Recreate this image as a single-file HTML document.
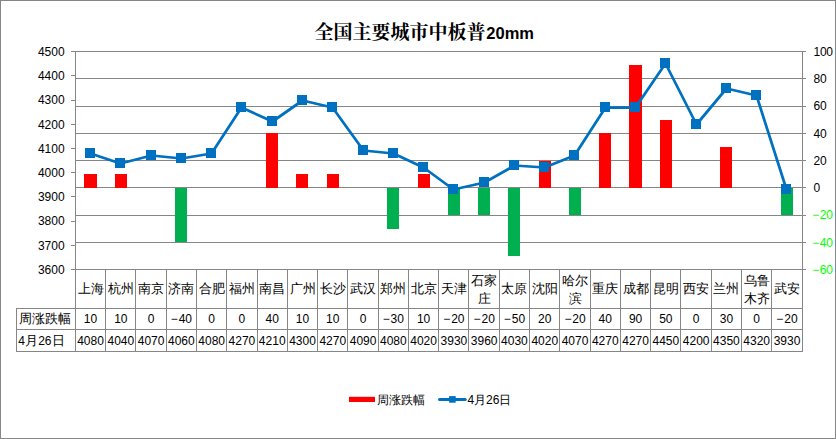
<!DOCTYPE html>
<html lang="zh">
<head>
<meta charset="utf-8">
<title>全国主要城市中板普20mm</title>
<style>
html,body{margin:0;padding:0;background:#fff;}
body{width:836px;height:439px;overflow:hidden;font-family:"Liberation Sans",sans-serif;}
#chart{position:absolute;left:0;top:0;width:836px;height:439px;box-sizing:border-box;border:1px solid #868686;background:#fff;}
svg{position:absolute;left:0;top:0;display:block;}
text{font-family:"Liberation Sans",sans-serif;}
</style>
</head>
<body>
<div id="chart"></div>
<svg width="836" height="439" viewBox="0 0 836 439">
<g id="grid">
<rect x="75" y="51" width="731" height="1" fill="#868686"/>
<rect x="75" y="78" width="731" height="1" fill="#868686"/>
<rect x="75" y="106" width="731" height="1" fill="#868686"/>
<rect x="75" y="133" width="731" height="1" fill="#868686"/>
<rect x="75" y="160" width="731" height="1" fill="#868686"/>
<rect x="75" y="187" width="731" height="1" fill="#868686"/>
<rect x="75" y="215" width="731" height="1" fill="#868686"/>
<rect x="75" y="242" width="731" height="1" fill="#868686"/>
<rect x="75" y="269" width="731" height="1" fill="#868686"/>
</g>
<g id="axes">
<rect x="75" y="51" width="1" height="301" fill="#868686"/>
<rect x="802" y="51" width="1" height="301" fill="#868686"/>
<rect x="71" y="51" width="5" height="1" fill="#868686"/>
<rect x="71" y="75" width="5" height="1" fill="#868686"/>
<rect x="71" y="100" width="5" height="1" fill="#868686"/>
<rect x="71" y="124" width="5" height="1" fill="#868686"/>
<rect x="71" y="148" width="5" height="1" fill="#868686"/>
<rect x="71" y="172" width="5" height="1" fill="#868686"/>
<rect x="71" y="196" width="5" height="1" fill="#868686"/>
<rect x="71" y="221" width="5" height="1" fill="#868686"/>
<rect x="71" y="245" width="5" height="1" fill="#868686"/>
<rect x="71" y="269" width="5" height="1" fill="#868686"/>
</g>
<g id="table">
<rect x="105" y="269" width="1" height="83" fill="#868686"/>
<rect x="135" y="269" width="1" height="83" fill="#868686"/>
<rect x="166" y="269" width="1" height="83" fill="#868686"/>
<rect x="196" y="269" width="1" height="83" fill="#868686"/>
<rect x="226" y="269" width="1" height="83" fill="#868686"/>
<rect x="257" y="269" width="1" height="83" fill="#868686"/>
<rect x="287" y="269" width="1" height="83" fill="#868686"/>
<rect x="317" y="269" width="1" height="83" fill="#868686"/>
<rect x="347" y="269" width="1" height="83" fill="#868686"/>
<rect x="378" y="269" width="1" height="83" fill="#868686"/>
<rect x="408" y="269" width="1" height="83" fill="#868686"/>
<rect x="438" y="269" width="1" height="83" fill="#868686"/>
<rect x="468" y="269" width="1" height="83" fill="#868686"/>
<rect x="499" y="269" width="1" height="83" fill="#868686"/>
<rect x="529" y="269" width="1" height="83" fill="#868686"/>
<rect x="559" y="269" width="1" height="83" fill="#868686"/>
<rect x="590" y="269" width="1" height="83" fill="#868686"/>
<rect x="620" y="269" width="1" height="83" fill="#868686"/>
<rect x="650" y="269" width="1" height="83" fill="#868686"/>
<rect x="680" y="269" width="1" height="83" fill="#868686"/>
<rect x="711" y="269" width="1" height="83" fill="#868686"/>
<rect x="741" y="269" width="1" height="83" fill="#868686"/>
<rect x="771" y="269" width="1" height="83" fill="#868686"/>
<rect x="16" y="308" width="787" height="1" fill="#868686"/>
<rect x="16" y="329" width="787" height="1" fill="#868686"/>
<rect x="16" y="351" width="787" height="1" fill="#868686"/>
<rect x="16" y="308" width="1" height="44" fill="#868686"/>
</g>
<g id="bars">
<rect x="84" y="174" width="13" height="14" fill="#ff0000"/>
<rect x="115" y="174" width="12" height="14" fill="#ff0000"/>
<rect x="175" y="188" width="12" height="54" fill="#00b050"/>
<rect x="266" y="133" width="12" height="55" fill="#ff0000"/>
<rect x="296" y="174" width="12" height="14" fill="#ff0000"/>
<rect x="327" y="174" width="12" height="14" fill="#ff0000"/>
<rect x="387" y="188" width="12" height="41" fill="#00b050"/>
<rect x="418" y="174" width="12" height="14" fill="#ff0000"/>
<rect x="448" y="188" width="12" height="27" fill="#00b050"/>
<rect x="478" y="188" width="12" height="27" fill="#00b050"/>
<rect x="508" y="188" width="12" height="68" fill="#00b050"/>
<rect x="539" y="161" width="12" height="27" fill="#ff0000"/>
<rect x="569" y="188" width="12" height="27" fill="#00b050"/>
<rect x="599" y="133" width="12" height="55" fill="#ff0000"/>
<rect x="629" y="65" width="13" height="123" fill="#ff0000"/>
<rect x="660" y="120" width="12" height="68" fill="#ff0000"/>
<rect x="720" y="147" width="12" height="41" fill="#ff0000"/>
<rect x="781" y="188" width="12" height="27" fill="#00b050"/>
</g>
<g id="line">
<polyline fill="none" stroke="#0070c0" stroke-width="2.75" stroke-linejoin="round" stroke-linecap="round" points="90.5,153.5 120.5,163.5 151.5,155.5 181.5,158.5 211.5,153.5 241.5,107.5 272.5,121.5 302.5,100.5 332.5,107.5 363.5,150.5 393.5,153.5 423.5,167.5 453.5,189.5 484.5,182.5 514.5,165.5 544.5,167.5 574.5,155.5 605.5,107.5 635.5,107.5 665.5,63.5 696.5,124.5 726.5,88.5 756.5,95.5 786.5,189.5"/>
<rect x="85" y="148" width="10" height="10" fill="#0070c0"/>
<rect x="115" y="158" width="10" height="10" fill="#0070c0"/>
<rect x="146" y="150" width="10" height="10" fill="#0070c0"/>
<rect x="176" y="153" width="10" height="10" fill="#0070c0"/>
<rect x="206" y="148" width="10" height="10" fill="#0070c0"/>
<rect x="236" y="102" width="10" height="10" fill="#0070c0"/>
<rect x="267" y="116" width="10" height="10" fill="#0070c0"/>
<rect x="297" y="95" width="10" height="10" fill="#0070c0"/>
<rect x="327" y="102" width="10" height="10" fill="#0070c0"/>
<rect x="358" y="145" width="10" height="10" fill="#0070c0"/>
<rect x="388" y="148" width="10" height="10" fill="#0070c0"/>
<rect x="418" y="162" width="10" height="10" fill="#0070c0"/>
<rect x="448" y="184" width="10" height="10" fill="#0070c0"/>
<rect x="479" y="177" width="10" height="10" fill="#0070c0"/>
<rect x="509" y="160" width="10" height="10" fill="#0070c0"/>
<rect x="539" y="162" width="10" height="10" fill="#0070c0"/>
<rect x="569" y="150" width="10" height="10" fill="#0070c0"/>
<rect x="600" y="102" width="10" height="10" fill="#0070c0"/>
<rect x="630" y="102" width="10" height="10" fill="#0070c0"/>
<rect x="660" y="58" width="10" height="10" fill="#0070c0"/>
<rect x="691" y="119" width="10" height="10" fill="#0070c0"/>
<rect x="721" y="83" width="10" height="10" fill="#0070c0"/>
<rect x="751" y="90" width="10" height="10" fill="#0070c0"/>
<rect x="781" y="184" width="10" height="10" fill="#0070c0"/>
</g>
<g id="legend">
<rect x="349" y="396.8" width="26" height="5.2" fill="#ff0000"/>
<line x1="439.5" y1="399.4" x2="465.2" y2="399.4" stroke="#0070c0" stroke-width="3" stroke-linecap="round"/>
<rect x="449.1" y="396.1" width="6.6" height="6.6" fill="#0070c0"/>
</g>
<g id="nums" style="font-family:&quot;Liberation Sans&quot;,sans-serif;font-size:12px" fill="#000">
<text x="64.6" y="55.9" text-anchor="end">4500</text>
<text x="64.6" y="80.12" text-anchor="end">4400</text>
<text x="64.6" y="104.34" text-anchor="end">4300</text>
<text x="64.6" y="128.57" text-anchor="end">4200</text>
<text x="64.6" y="152.79" text-anchor="end">4100</text>
<text x="64.6" y="177.01" text-anchor="end">4000</text>
<text x="64.6" y="201.23" text-anchor="end">3900</text>
<text x="64.6" y="225.46" text-anchor="end">3800</text>
<text x="64.6" y="249.68" text-anchor="end">3700</text>
<text x="64.6" y="273.9" text-anchor="end">3600</text>
<text x="813.6" y="55.9" letter-spacing="-0.35">100</text>
<text x="813.6" y="83.15" letter-spacing="-0.35">80</text>
<text x="813.6" y="110.4" letter-spacing="-0.35">60</text>
<text x="813.6" y="137.65" letter-spacing="-0.35">40</text>
<text x="813.6" y="164.9" letter-spacing="-0.35">20</text>
<text x="813.6" y="192.15" letter-spacing="-0.35">0</text>
<text x="812.3" y="219.4" fill="#00ff00" letter-spacing="-0.35">−<tspan dx="0.9">20</tspan></text>
<text x="812.3" y="246.65" fill="#00ff00" letter-spacing="-0.35">−<tspan dx="0.9">40</tspan></text>
<text x="812.3" y="273.9" fill="#00ff00" letter-spacing="-0.35">−<tspan dx="0.9">60</tspan></text>
<text x="90.54" y="323.4" text-anchor="middle">10</text>
<text x="120.82" y="323.4" text-anchor="middle">10</text>
<text x="151.1" y="323.4" text-anchor="middle">0</text>
<text x="181.38" y="323.4" text-anchor="middle">−<tspan dx="0.9">40</tspan></text>
<text x="211.66" y="323.4" text-anchor="middle">0</text>
<text x="241.94" y="323.4" text-anchor="middle">0</text>
<text x="272.22" y="323.4" text-anchor="middle">40</text>
<text x="302.5" y="323.4" text-anchor="middle">10</text>
<text x="332.78" y="323.4" text-anchor="middle">10</text>
<text x="363.06" y="323.4" text-anchor="middle">0</text>
<text x="393.34" y="323.4" text-anchor="middle">−<tspan dx="0.9">30</tspan></text>
<text x="423.62" y="323.4" text-anchor="middle">10</text>
<text x="453.9" y="323.4" text-anchor="middle">−<tspan dx="0.9">20</tspan></text>
<text x="484.18" y="323.4" text-anchor="middle">−<tspan dx="0.9">20</tspan></text>
<text x="514.46" y="323.4" text-anchor="middle">−<tspan dx="0.9">50</tspan></text>
<text x="544.74" y="323.4" text-anchor="middle">20</text>
<text x="575.02" y="323.4" text-anchor="middle">−<tspan dx="0.9">20</tspan></text>
<text x="605.3" y="323.4" text-anchor="middle">40</text>
<text x="635.58" y="323.4" text-anchor="middle">90</text>
<text x="665.86" y="323.4" text-anchor="middle">50</text>
<text x="696.14" y="323.4" text-anchor="middle">0</text>
<text x="726.42" y="323.4" text-anchor="middle">30</text>
<text x="756.7" y="323.4" text-anchor="middle">0</text>
<text x="786.98" y="323.4" text-anchor="middle">−<tspan dx="0.9">20</tspan></text>
<text x="90.54" y="345" text-anchor="middle">4080</text>
<text x="120.82" y="345" text-anchor="middle">4040</text>
<text x="151.1" y="345" text-anchor="middle">4070</text>
<text x="181.38" y="345" text-anchor="middle">4060</text>
<text x="211.66" y="345" text-anchor="middle">4080</text>
<text x="241.94" y="345" text-anchor="middle">4270</text>
<text x="272.22" y="345" text-anchor="middle">4210</text>
<text x="302.5" y="345" text-anchor="middle">4300</text>
<text x="332.78" y="345" text-anchor="middle">4270</text>
<text x="363.06" y="345" text-anchor="middle">4090</text>
<text x="393.34" y="345" text-anchor="middle">4080</text>
<text x="423.62" y="345" text-anchor="middle">4020</text>
<text x="453.9" y="345" text-anchor="middle">3930</text>
<text x="484.18" y="345" text-anchor="middle">3960</text>
<text x="514.46" y="345" text-anchor="middle">4030</text>
<text x="544.74" y="345" text-anchor="middle">4020</text>
<text x="575.02" y="345" text-anchor="middle">4070</text>
<text x="605.3" y="345" text-anchor="middle">4270</text>
<text x="635.58" y="345" text-anchor="middle">4270</text>
<text x="665.86" y="345" text-anchor="middle">4450</text>
<text x="696.14" y="345" text-anchor="middle">4200</text>
<text x="726.42" y="345" text-anchor="middle">4350</text>
<text x="756.7" y="345" text-anchor="middle">4320</text>
<text x="786.98" y="345" text-anchor="middle">3930</text>
</g>
<g id="cjk" fill="#000" style="font-family:&quot;Liberation Sans&quot;,&quot;Noto Sans CJK SC&quot;,sans-serif;font-size:13px">
<text x="90.54" y="292.5" text-anchor="middle">上海</text>
<text x="120.82" y="292.5" text-anchor="middle">杭州</text>
<text x="151.1" y="292.5" text-anchor="middle">南京</text>
<text x="181.38" y="292.5" text-anchor="middle">济南</text>
<text x="211.66" y="292.5" text-anchor="middle">合肥</text>
<text x="241.94" y="292.5" text-anchor="middle">福州</text>
<text x="272.22" y="292.5" text-anchor="middle">南昌</text>
<text x="302.5" y="292.5" text-anchor="middle">广州</text>
<text x="332.78" y="292.5" text-anchor="middle">长沙</text>
<text x="363.06" y="292.5" text-anchor="middle">武汉</text>
<text x="393.34" y="292.5" text-anchor="middle">郑州</text>
<text x="423.62" y="292.5" text-anchor="middle">北京</text>
<text x="453.9" y="292.5" text-anchor="middle">天津</text>
<text x="484.18" y="285" text-anchor="middle">石家</text>
<text x="484.18" y="303.1" text-anchor="middle">庄</text>
<text x="514.46" y="292.5" text-anchor="middle">太原</text>
<text x="544.74" y="292.5" text-anchor="middle">沈阳</text>
<text x="575.02" y="285" text-anchor="middle">哈尔</text>
<text x="575.02" y="303.1" text-anchor="middle">滨</text>
<text x="605.3" y="292.5" text-anchor="middle">重庆</text>
<text x="635.58" y="292.5" text-anchor="middle">成都</text>
<text x="665.86" y="292.5" text-anchor="middle">昆明</text>
<text x="696.14" y="292.5" text-anchor="middle">西安</text>
<text x="726.42" y="292.5" text-anchor="middle">兰州</text>
<text x="756.7" y="285" text-anchor="middle">乌鲁</text>
<text x="756.7" y="303.1" text-anchor="middle">木齐</text>
<text x="786.98" y="292.5" text-anchor="middle">武安</text>
<text x="19.3" y="323.2">周涨跌幅</text>
<text x="18.2" y="345" style="font-family:&quot;Liberation Sans&quot;,sans-serif;font-size:12px">4</text>
<text x="24.9" y="345">月</text>
<text x="38.2" y="345" style="font-family:&quot;Liberation Sans&quot;,sans-serif;font-size:12px">26</text>
<text x="51.6" y="345">日</text>
<text x="377.2" y="403.8" style="font-size:12px">周涨跌幅</text>
<text x="467.5" y="403.8" style="font-family:&quot;Liberation Sans&quot;,sans-serif;font-size:12px">4</text>
<text x="473.8" y="403.8" style="font-size:12px">月</text>
<text x="486" y="403.8" style="font-family:&quot;Liberation Sans&quot;,sans-serif;font-size:12px">26</text>
<text x="499" y="403.8" style="font-size:12px">日</text>
</g>
<g id="title" fill="#000">
<text x="314.5" y="38.5" style="font-family:&quot;Liberation Serif&quot;,&quot;Noto Serif CJK SC&quot;,serif;font-size:19px;font-weight:bold">全国主要城市中板普</text>
<text x="486.3" y="39" style="font-family:&quot;Liberation Sans&quot;,sans-serif;font-size:16.5px;font-weight:bold">20mm</text>
</g>
</svg>
</body>
</html>
